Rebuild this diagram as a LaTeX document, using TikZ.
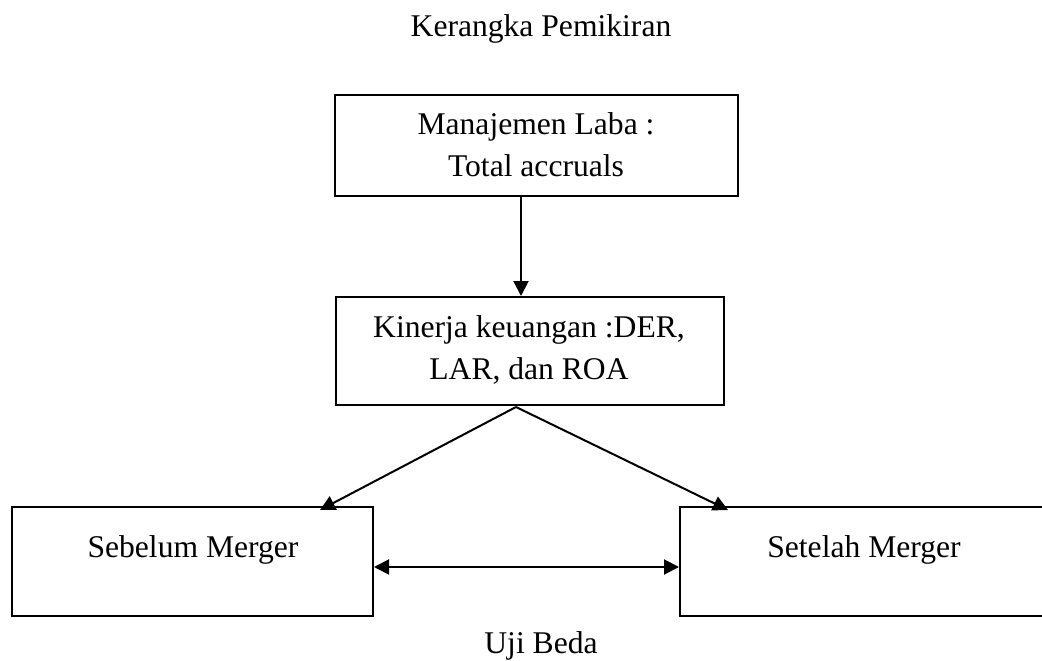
\documentclass[tikz,border=0pt]{standalone}
\usepackage{fontspec}
\setmainfont{Liberation Serif}
\usetikzlibrary{arrows.meta}
\begin{document}
\begin{tikzpicture}[x=1pt,y=-1pt,
  box/.style={draw,line width=2pt,rectangle,inner sep=0pt},
  txt/.style={anchor=base,inner sep=0pt,font=\fontsize{31.6}{38}\selectfont},
  conn/.style={line width=2pt,-{Triangle[length=15pt,width=15pt]}},
  dconn/.style={line width=2pt,{Triangle[length=15pt,width=15pt]}-{Triangle[length=15pt,width=15pt]}}]
\useasboundingbox (0,0) rectangle (1042,661);
\begin{scope}
\clip (0,0) rectangle (1042,661);
\node[box,minimum width=403pt,minimum height=101pt] (b1) at (536.5,145.5) {};
\node[box,minimum width=388pt,minimum height=108pt] (b2) at (530,351) {};
\node[box,minimum width=361pt,minimum height=109pt] (b3) at (192.5,561.5) {};
\node[box,minimum width=366pt,minimum height=109pt] (b4) at (863,561.5) {};
\end{scope}
\node[txt] (title) at (541,37) {Kerangka Pemikiran};
\node[txt] (t1a) at (536,135) {Manajemen Laba :};
\node[txt] (t1b) at (536,176) {Total accruals};
\node[txt] (t2a) at (529,337) {Kinerja keuangan :DER,};
\node[txt] (t2b) at (529,379) {LAR, dan ROA};
\node[txt] (t3) at (193,557) {Sebelum Merger};
\node[txt] (t4) at (864,557) {Setelah Merger};
\node[txt] (uji) at (541,653) {Uji Beda};
\coordinate (vx) at (521,0);
\coordinate (split) at (516,407);
\coordinate (lx) at (320,0);
\coordinate (rx) at (728,0);
\coordinate (hy) at (0,567);
\draw[conn] (b1.south -| vx) -- (b2.north -| vx);
\draw[conn] (split) -- ([yshift=-4pt]b3.north -| lx);
\draw[conn] (split) -- ([yshift=-4pt]b4.north -| rx);
\draw[dconn] (b3.east |- hy) -- (b4.west |- hy);
\end{tikzpicture}
\end{document}
